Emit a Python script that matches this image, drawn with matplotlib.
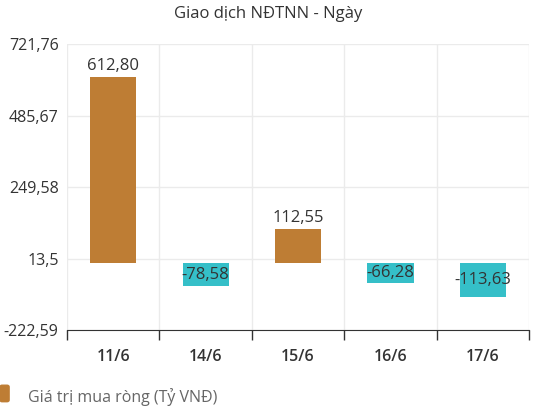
import matplotlib
matplotlib.use("Agg")
import matplotlib.pyplot as plt
from matplotlib.patches import FancyBboxPatch
import numpy as np

plt.rcParams['font.family'] = ['Open Sans', 'DejaVu Sans']

days = ["11/6", "14/6", "15/6", "16/6", "17/6"]
values = [612.80, -78.58, 112.55, -66.28, -113.63]
yticks = [-222.59, 13.5, 249.58, 485.67, 721.76]
ytick_labels = ["-222,59", "13,5", "249,58", "485,67", "721,76"]

pos_color = "#BE7D34"
neg_color = "#35BFC8"

fig = plt.figure(figsize=(5.36, 4.12), dpi=100)
ax = fig.add_axes([0.125, 0.199, 0.862, 0.694])

x = np.arange(len(days))
colors = [pos_color if v >= 0 else neg_color for v in values]
ax.bar(x, values, width=0.5, color=colors, zorder=3)

for xi, v in zip(x, values):
    lbl = f"{v:.2f}".replace(".", ",")
    if v >= 0:
        ax.text(xi, v + 10, lbl, ha="center", va="bottom", fontsize=12, color="#333333")
    else:
        ax.text(xi, v / 2, lbl, ha="center", va="center", fontsize=12, color="#333333", zorder=4)

ax.set_xlim(-0.5, len(days) - 0.5)
ax.set_ylim(yticks[0], yticks[-1])
ax.set_yticks(yticks)
ax.set_yticklabels(ytick_labels, fontsize=11.5, color="#333333")
ax.set_xticks(x)
ax.set_xticklabels(days, fontsize=11.5, color="#333333", fontweight="semibold")
ax.set_xticks(np.arange(len(days) + 1) - 0.5, minor=True)
ax.tick_params(axis="x", which="major", length=0, pad=14)
ax.tick_params(axis="x", which="minor", length=7, width=1, color="#333333", direction="out")
ax.tick_params(axis="y", length=0, pad=6)
ax.grid(axis="y", color="#ebebeb", lw=1, zorder=0)
ax.grid(axis="x", which="minor", color="#ebebeb", lw=1, zorder=0)
for s in ["top", "right", "left"]:
    ax.spines[s].set_visible(False)
ax.spines["bottom"].set_color("#333333")

fig.text(0.5, 0.965, "Giao dịch NĐTNN - Ngày", ha="center", va="center", fontsize=12, color="#333333")

sq = FancyBboxPatch((0.0, 0.025), 0.017, 0.04, boxstyle="round,pad=0,rounding_size=0.004",
                    transform=fig.transFigure, color=pos_color)
fig.patches.append(sq)
fig.text(0.052, 0.037, "Giá trị mua ròng (Tỷ VNĐ)", ha="left", va="center", fontsize=11.5, color="#666666")

fig.savefig("out.png", dpi=100)
